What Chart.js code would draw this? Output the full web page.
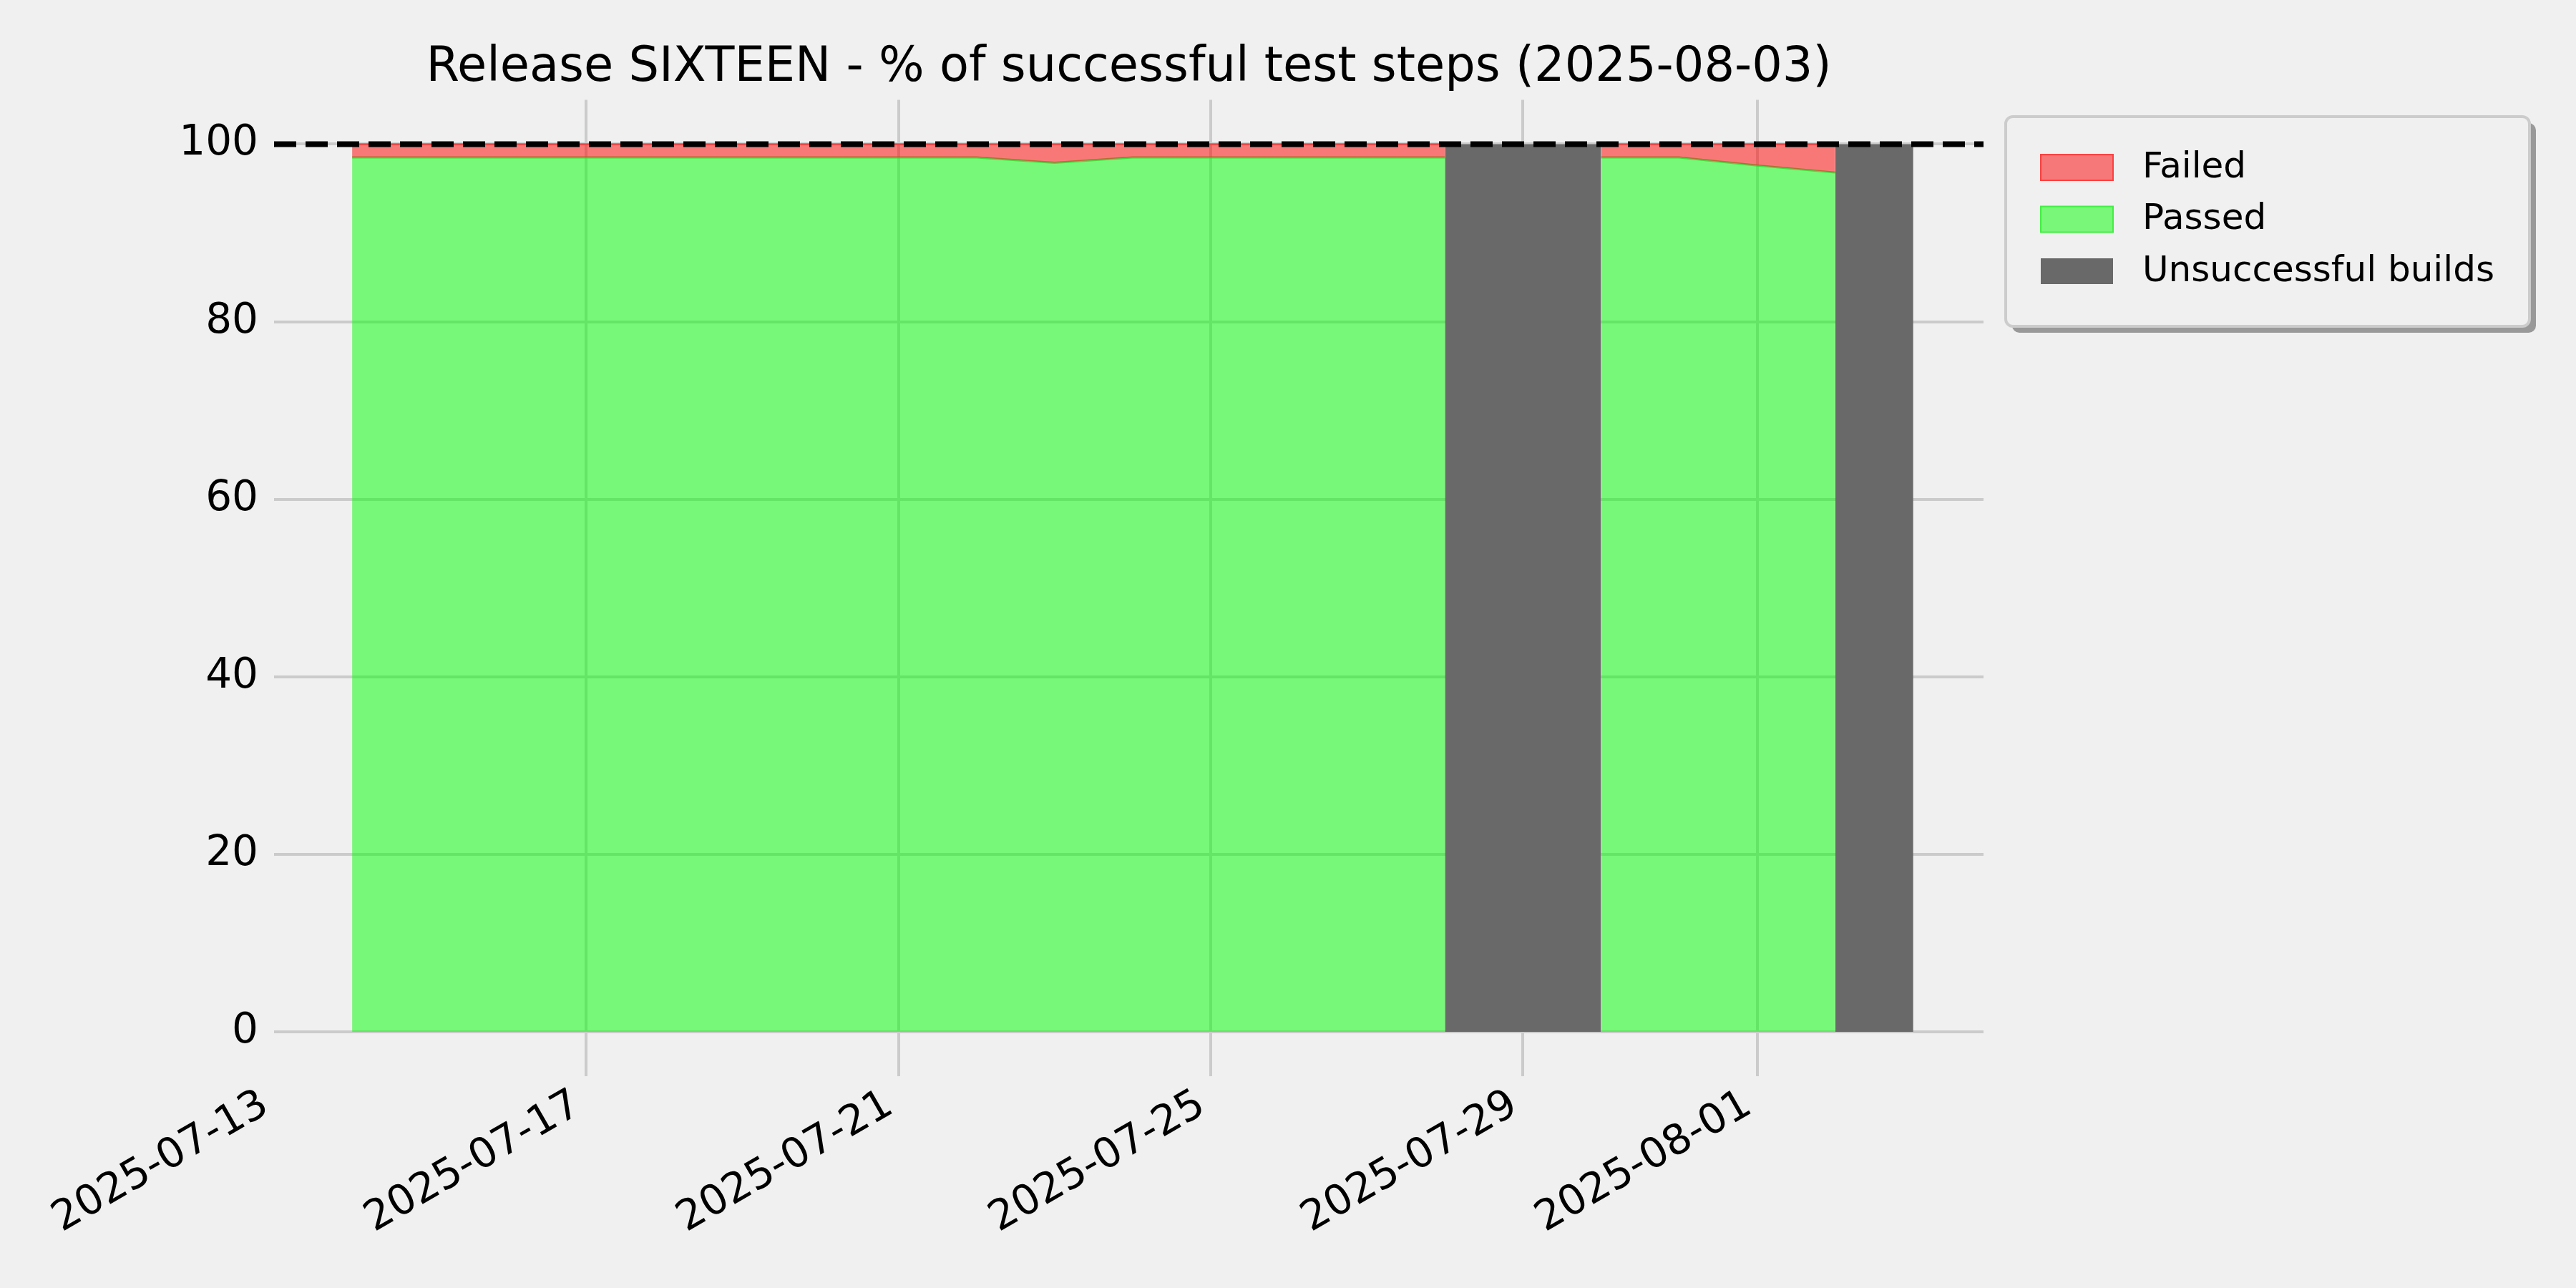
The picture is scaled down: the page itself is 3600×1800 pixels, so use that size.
<!DOCTYPE html>
<html lang="en">
<head>
<meta charset="UTF-8">
<title>Release SIXTEEN - % of successful test steps</title>
<script src="https://cdn.jsdelivr.net/npm/chart.js@4.4.1/dist/chart.umd.min.js"></script>
<style>
  html, body { margin: 0; padding: 0; background: #f0f0f0; }
  #wrap { width: 3600px; height: 1800px; }
</style>
</head>
<body>
<div id="wrap"><canvas id="stepsChart"></canvas></div>
<script>
// data
const axisStart = '2025-07-13';
const axisSpanDays = 21.9;
const buildDates = [
  '2025-07-14', '2025-07-15', '2025-07-16', '2025-07-17', '2025-07-18', '2025-07-19', '2025-07-20',
  '2025-07-21', '2025-07-22', '2025-07-23', '2025-07-24', '2025-07-25', '2025-07-26', '2025-07-27',
  '2025-07-28', '2025-07-29', '2025-07-30', '2025-07-31', '2025-08-01', '2025-08-02', '2025-08-03'
];
const passedPct = [
  98.5, 98.5, 98.5, 98.5, 98.5, 98.5, 98.5,
  98.5, 98.5, 97.9, 98.5, 98.5, 98.5, 98.5,
  98.5, null, 98.5, 98.5, 97.6, 96.8, null
];
const failedPct = [
  1.5, 1.5, 1.5, 1.5, 1.5, 1.5, 1.5,
  1.5, 1.5, 2.1, 1.5, 1.5, 1.5, 1.5,
  1.5, null, 1.5, 1.5, 2.4, 3.2, null
];
const unsuccessfulFrom = ['2025-07-28', '2025-08-02'];
const unsuccessfulTo = ['2025-07-30', '2025-08-03'];
const xTickDates = ['2025-07-13', '2025-07-17', '2025-07-21', '2025-07-25', '2025-07-29', '2025-08-01'];
const yTicks = [0, 20, 40, 60, 80, 100];
const targetPct = 100;

const DAY = 86400000;
function dayNum(d) { return Math.round((Date.parse(d) - Date.parse(axisStart)) / DAY); }
function dayLabel(n) { return new Date(Date.parse(axisStart) + n * DAY).toISOString().slice(0, 10); }

const passedPts = buildDates.map((d, i) => ({ x: dayNum(d), y: passedPct[i] }));
const failedPts = buildDates.map((d, i) => ({
  x: dayNum(d),
  y: passedPct[i] === null ? null : passedPct[i] + failedPct[i]
}));
const unsuccessfulPts = [];
unsuccessfulFrom.forEach((d, i) => {
  unsuccessfulPts.push({ x: dayNum(d), y: 100 });
  unsuccessfulPts.push({ x: dayNum(unsuccessfulTo[i]), y: 100 });
  unsuccessfulPts.push({ x: dayNum(unsuccessfulTo[i]), y: null });
});

Chart.defaults.font.family = '"DejaVu Sans", sans-serif';
Chart.defaults.color = '#000000';

// matplotlib-style legend box with a drop shadow, outside the axes
const boxLegend = {
  id: 'boxLegend',
  afterDraw(chart) {
    const ctx = chart.ctx;
    const items = chart.data.datasets.filter(ds => ds.inLegend);
    const x = chart.chartArea.right + 31, y = 163, w = 732, h = 293;
    ctx.save();
    ctx.fillStyle = '#999999';
    ctx.beginPath(); ctx.roundRect(x + 9, y + 9, w, h, 10); ctx.fill();
    ctx.fillStyle = '#f0f0f0';
    ctx.strokeStyle = '#cccccc';
    ctx.lineWidth = 4;
    ctx.beginPath(); ctx.roundRect(x, y, w, h, 10); ctx.fill(); ctx.stroke();
    ctx.font = '50px "DejaVu Sans"';
    ctx.textBaseline = 'middle';
    items.forEach((ds, i) => {
      const top = y + 53 + i * 72.5;
      ctx.fillStyle = ds.legendFill;
      ctx.fillRect(x + 49, top, 101, 36);
      if (ds.legendEdge) {
        ctx.strokeStyle = ds.legendEdge;
        ctx.lineWidth = 2;
        ctx.strokeRect(x + 49, top, 101, 36);
      }
      ctx.fillStyle = '#000000';
      ctx.fillText(ds.label, x + 191, top + 19);
    });
    ctx.restore();
  }
};

new Chart(document.getElementById('stepsChart'), {
  type: 'line',
  data: {
    datasets: [
      {
        label: 'Failed',
        data: failedPts,
        inLegend: true,
        legendFill: '#f77878',
        legendEdge: '#ff4040',
        borderColor: 'rgba(255, 0, 0, 0.45)',
        backgroundColor: 'rgba(255, 0, 0, 0.5)',
        borderWidth: 3,
        fill: '+1',
        pointRadius: 0,
        tension: 0,
        order: 2
      },
      {
        label: 'Passed',
        data: passedPts,
        inLegend: true,
        legendFill: '#78f778',
        legendEdge: '#44ee44',
        borderColor: 'rgba(40, 210, 40, 0.7)',
        backgroundColor: 'rgba(0, 255, 0, 0.5)',
        borderWidth: 3,
        fill: 'origin',
        pointRadius: 0,
        tension: 0,
        order: 3
      },
      {
        label: 'Unsuccessful builds',
        data: unsuccessfulPts,
        inLegend: true,
        legendFill: '#696969',
        borderColor: '#696969',
        backgroundColor: '#696969',
        borderWidth: 0,
        fill: 'origin',
        pointRadius: 0,
        tension: 0,
        order: 1
      },
      {
        label: 'Target',
        data: [{ x: 0, y: targetPct }, { x: axisSpanDays, y: targetPct }],
        borderColor: '#000000',
        borderWidth: 8,
        borderDash: [31, 13],
        borderCapStyle: 'butt',
        fill: false,
        pointRadius: 0,
        order: 0
      }
    ]
  },
  options: {
    responsive: true,
    maintainAspectRatio: false,
    animation: false,
    devicePixelRatio: 1,
    layout: { padding: { left: 0, right: 828, top: 0, bottom: 0 } },
    plugins: {
      legend: { display: false },
      tooltip: { enabled: false },
      title: {
        display: true,
        fullSize: false,
        text: 'Release SIXTEEN - % of successful test steps (2025-08-03)',
        font: { size: 67, weight: 'normal', lineHeight: 1.2 },
        color: '#000000',
        padding: { top: 55, bottom: 4 }
      }
    },
    scales: {
      x: {
        type: 'linear',
        min: 0,
        max: axisSpanDays,
        afterBuildTicks: s => { s.ticks = xTickDates.map(d => ({ value: dayNum(d) })); },
        afterFit: s => { s.height = 296; },
        border: { display: false },
        grid: {
          color: c => (c.tick && c.tick.value === 0 ? 'rgba(0,0,0,0)' : '#cbcbcb'),
          lineWidth: 4,
          drawTicks: false
        },
        ticks: {
          autoSkip: false,
          minRotation: 30,
          maxRotation: 30,
          padding: 6,
          labelOffset: -12,
          font: { size: 58 },
          callback: v => dayLabel(v)
        }
      },
      y: {
        min: -5,
        max: 105,
        afterBuildTicks: s => { s.ticks = yTicks.map(v => ({ value: v })); },
        afterFit: s => { s.width = 383; },
        border: { display: false },
        grid: { color: '#cbcbcb', lineWidth: 4, drawTicks: false },
        ticks: { padding: 22, font: { size: 58 } }
      }
    }
  },
  plugins: [boxLegend]
});
</script>
</body>
</html>
